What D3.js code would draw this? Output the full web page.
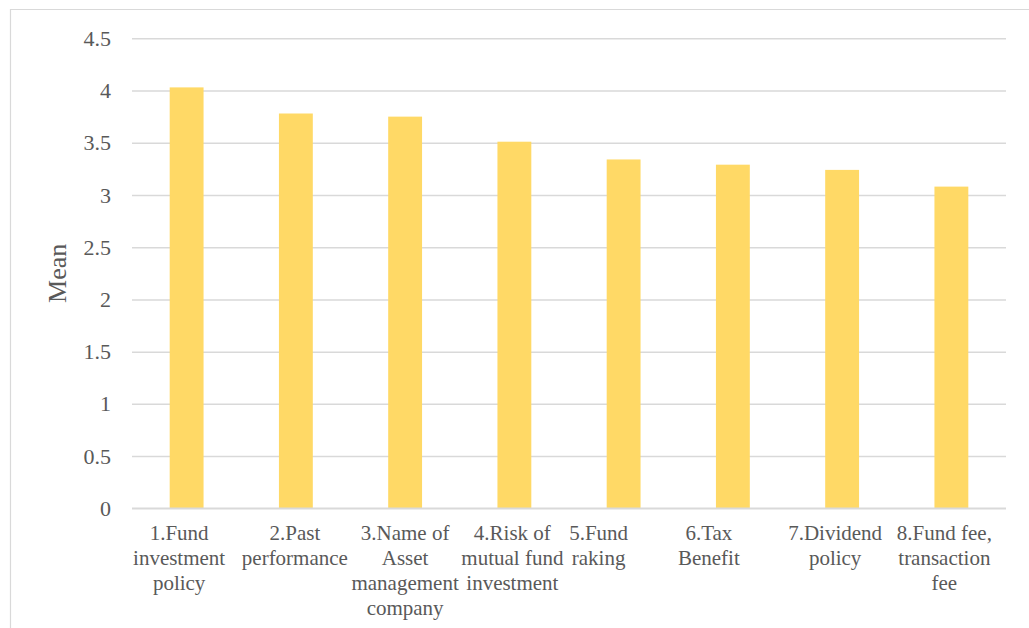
<!DOCTYPE html>
<html>
<head>
<meta charset="utf-8">
<script src="https://cdn.jsdelivr.net/npm/d3@7"></script>
<style>
  html, body { margin: 0; padding: 0; background: #fff; }
  svg { display: block; }
</style>
</head>
<body>
<svg id="chart" width="1029" height="628"></svg>
<script>
// Factor means, one bar per factor
const categories = [
  "1.Fund investment policy",
  "2.Past performance",
  "3.Name of Asset management company",
  "4.Risk of mutual fund investment",
  "5.Fund raking",
  "6.Tax Benefit",
  "7.Dividend policy",
  "8.Fund fee, transaction fee"
];
// Wrapped label lines for each category
const categoryLines = [
  ["1.Fund", "investment", "policy"],
  ["2.Past", "performance"],
  ["3.Name of", "Asset", "management", "company"],
  ["4.Risk of", "mutual fund", "investment"],
  ["5.Fund", "raking"],
  ["6.Tax", "Benefit"],
  ["7.Dividend", "policy"],
  ["8.Fund fee,", "transaction", "fee"]
];
const meanValues = [4.03, 3.78, 3.75, 3.51, 3.34, 3.29, 3.24, 3.08];
const yTicks = [0, 0.5, 1, 1.5, 2, 2.5, 3, 3.5, 4, 4.5];
const yTitle = "Mean";

const FONT = '"Liberation Serif", "Times New Roman", serif';
const TEXT_COLOR = "#595959";
const GRID_COLOR = "#d9d9d9";

// Horizontal nudges (px) applied to the wrapped category label blocks
const labelNudge = [-7.5, -1, 0, -2, -25, -24, -7, -7];

const svg = d3.select("#chart");
const plot = { left: 132, right: 1006, top: 38.3, bottom: 508.3 };

// Chart frame
svg.append("line").attr("x1", 10).attr("x2", 1029).attr("y1", 9.5).attr("y2", 9.5)
  .attr("stroke", GRID_COLOR).attr("stroke-width", 1.2);
svg.append("line").attr("x1", 10.5).attr("x2", 10.5).attr("y1", 9).attr("y2", 628)
  .attr("stroke", GRID_COLOR).attr("stroke-width", 1.2);

const x = d3.scaleBand().domain(categories).range([plot.left, plot.right])
  .paddingInner(0.69).paddingOuter(0.345);
const y = d3.scaleLinear().domain([0, 4.5]).range([plot.bottom, plot.top]);

// Horizontal gridlines and tick labels
const yAxis = d3.axisLeft(y).tickValues(yTicks).tickSize(-(plot.right - plot.left)).tickPadding(21)
  .tickFormat(d => String(d));
const gy = svg.append("g").attr("transform", `translate(${plot.left},0)`).call(yAxis);
gy.attr("font-family", FONT);
gy.select(".domain").remove();
gy.selectAll(".tick line").attr("stroke", GRID_COLOR).attr("stroke-width", 1.5);
gy.selectAll(".tick text").attr("font-size", 22).attr("fill", TEXT_COLOR).attr("font-family", FONT);

// Bars
svg.append("g").selectAll("rect").data(meanValues).join("rect")
  .attr("x", (d, i) => x(categories[i]))
  .attr("width", x.bandwidth())
  .attr("y", d => y(d))
  .attr("height", d => y(0) - y(d))
  .attr("fill", "#ffd966");

// Baseline drawn over bars
svg.append("line").attr("x1", plot.left).attr("x2", plot.right)
  .attr("y1", y(0)).attr("y2", y(0)).attr("stroke", GRID_COLOR).attr("stroke-width", 1.5);

// Category labels
const xl = svg.append("g");
categories.forEach((c, i) => {
  const cx = x(c) + x.bandwidth() / 2 + labelNudge[i];
  const t = xl.append("text").attr("text-anchor", "middle").attr("font-size", 21)
    .attr("font-family", FONT).attr("fill", TEXT_COLOR);
  categoryLines[i].forEach((line, j) => {
    t.append("tspan").attr("x", cx).attr("y", 540 + j * 25).text(line);
  });
});

// Axis title
svg.append("text")
  .attr("transform", `translate(66,${(plot.top + plot.bottom) / 2}) rotate(-90)`)
  .attr("text-anchor", "middle").attr("font-size", 26)
  .attr("font-family", FONT).attr("fill", TEXT_COLOR).text(yTitle);
</script>
</body>
</html>
